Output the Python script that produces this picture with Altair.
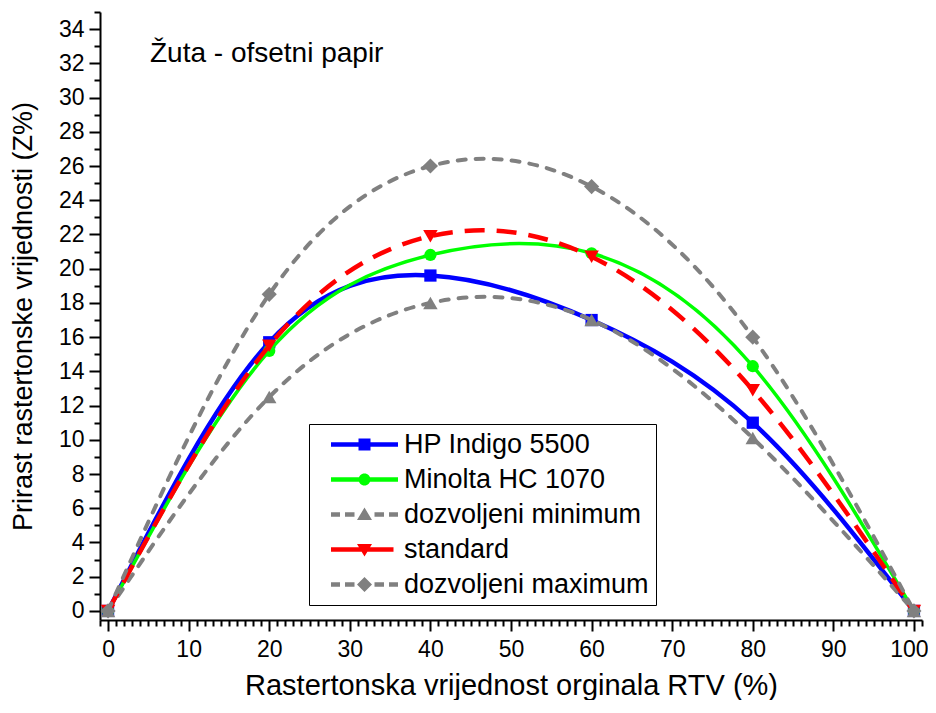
import altair as alt
import pandas as pd

# ---- data ----
rtv = [0, 20, 40, 60, 80, 100]
series_names = ["HP Indigo 5500", "Minolta HC 1070", "dozvoljeni minimum", "standard", "dozvoljeni maximum"]
hp_indigo = [0, 15.7, 19.6, 17.0, 11.0, 0]
minolta = [0, 15.2, 20.8, 20.9, 14.3, 0]
doz_min = [0, 12.5, 18.0, 17.0, 10.1, 0]
standard = [0, 15.5, 21.9, 20.7, 12.9, 0]
doz_max = [0, 18.5, 26.0, 24.8, 16.0, 0]
annotation = "Žuta - ofsetni papir"
x_title = "Rastertonska vrijednost orginala RTV (%)"
y_title = "Prirast rastertonske vrijednosti (Z%)"

values = [hp_indigo, minolta, doz_min, standard, doz_max]
rows = []
for name, vals in zip(series_names, values):
    for xv, yv in zip(rtv, vals):
        rows.append({"x": xv, "y": yv, "series": name})
df = pd.DataFrame(rows)

# ---- styles ----
colors = ["#0000FF", "#00FF00", "#808080", "#FF0000", "#808080"]
shapes = ["square", "circle", "triangle-up", "triangle-down", "diamond"]
sizes = [150, 150, 210, 210, 230]
widths = [4.5, 3.5, 4, 4.5, 4]
dashes = [None, None, [8, 10], [20, 12], [8, 10]]
caps = ["butt", "butt", "round", "butt", "round"]

FONT = "Liberation Sans"

# legend symbol: nominal size 20px -> 1 path unit = 10px; drawn 67px wide
L = 3.35
def line_path(kind):
    if kind == "dash":
        segs = [(-L, -2.45), (-1.95, -1.0), (1.0, 1.95), (2.45, L)]
    elif kind == "red":
        segs = [(-L, 0.0), (0.0, 2.9)]
    else:
        segs = [(-L, L)]
    h = 0.22
    return " ".join(f"M{a},{-h}H{b}V{h}H{a}Z" for a, b in segs)

m = 0.6
legend_paths = [
    line_path("solid") + f" M{-m},{-m}H{m}V{m}H{-m}Z",
    line_path("solid") + f" M{-m},0A{m},{m} 0 1,1 {m},0A{m},{m} 0 1,1 {-m},0Z",
    line_path("dash") + " M0,-0.7L0.75,0.55L-0.75,0.55Z",
    line_path("red") + " M-0.75,-0.55L0.75,-0.55L0,0.7Z",
    line_path("dash") + " M0,-0.75L0.75,0L0,0.75L-0.75,0Z",
]

X = alt.X(
    "x:Q",
    scale=alt.Scale(domain=[-1, 101], nice=False, zero=False),
    axis=alt.Axis(
        title=x_title,
        values=list(range(-1, 102)),
        labelExpr="datum.value % 10 == 0 ? datum.label : ''",
        tickSize={"condition": {"test": "datum.value % 10 == 0", "value": 11}, "value": 6},
        labelOffset={"condition": {"test": "datum.value == 100", "value": -5}, "value": 0},
        labelPadding=7,
        titlePadding=10,
        titleFontSize=29,
    ),
)
Y = alt.Y(
    "y:Q",
    scale=alt.Scale(domain=[-0.53, 35], nice=False, zero=False),
    axis=alt.Axis(
        title=y_title,
        values=list(range(0, 36)),
        labelExpr="datum.value % 2 == 0 ? datum.label : ''",
        tickSize={"condition": {"test": "datum.value % 2 == 0", "value": 11}, "value": 6},
        labelPadding=5,
        titlePadding=21,
        titleFontSize=27,
    ),
)

layers = []
for i, name in enumerate(series_names):
    base = alt.Chart(df).transform_filter(alt.datum.series == name)
    lkw = dict(interpolate="natural", color=colors[i], strokeWidth=widths[i], strokeCap=caps[i])
    if dashes[i] is not None:
        lkw["strokeDash"] = dashes[i]
    layers.append(base.mark_line(**lkw).encode(x=X, y=Y))
    layers.append(
        base.mark_point(filled=True, shape=shapes[i], size=sizes[i], color=colors[i], opacity=1).encode(x=X, y=Y)
    )

leg = alt.Legend(
    title=None,
    orient="none",
    legendX=209,
    legendY=412,
    symbolSize=400,
    symbolStrokeWidth=0,
    symbolOffset=35,
    labelOffset=26,
    labelFont=FONT,
    labelFontSize=27,
    labelColor="black",
    labelLimit=500,
    rowPadding=7,
    padding=7,
    strokeColor="black",
    fillColor="white",
)

legend_layer = (
    alt.Chart(df)
    .transform_filter("datum.x < -1000")
    .mark_point(filled=True, opacity=1, size=400)
    .encode(
        x=X,
        y=Y,
        color=alt.Color("series:N", scale=alt.Scale(domain=series_names, range=colors), legend=leg, sort=series_names),
        shape=alt.Shape("series:N", scale=alt.Scale(domain=series_names, range=legend_paths), legend=leg, sort=series_names),
    )
)

text_layer = (
    alt.Chart(pd.DataFrame({"label": [annotation]}))
    .mark_text(align="left", baseline="alphabetic", font=FONT, fontSize=28, color="black")
    .encode(text="label:N", x=alt.value(50), y=alt.value(50))
)

chart = (
    alt.layer(*layers, legend_layer, text_layer)
    .properties(
        width=822,
        height=608,
        autosize=alt.AutoSizeParams(type="none"),
        padding={"left": 92, "top": 4, "right": 6, "bottom": 80},
    )
    .configure_view(stroke=None)
    .configure_axis(
        grid=False,
        domainColor="black",
        domainWidth=2,
        tickColor="black",
        tickWidth=2,
        labelFont=FONT,
        labelFontSize=23,
        labelColor="black",
        titleFont=FONT,
        titleFontWeight="normal",
        titleColor="black",
        labelFlush=False,
        labelOverlap=False,
    )
)

chart.save("out.html", embed_options={"renderer": "svg", "actions": False})
